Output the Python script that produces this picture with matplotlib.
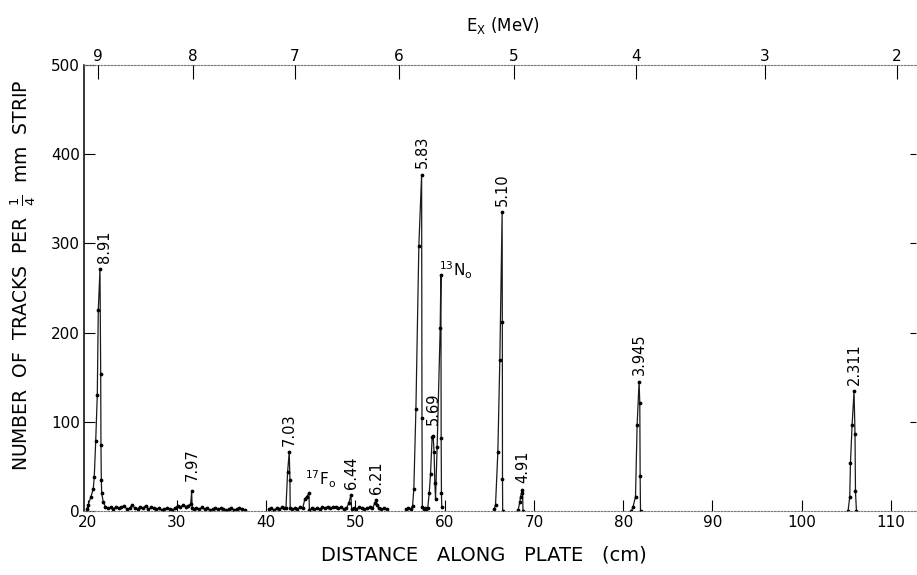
import matplotlib
matplotlib.use("Agg")
import matplotlib.pyplot as plt
import numpy as np

# distance along plate (cm) and number of tracks, one list per drawn run of points
seg1_x = [19.9, 20.08, 20.38, 20.64, 20.75, 20.91, 21.09, 21.2, 21.39, 21.47, 21.5, 21.54, 21.58, 21.76,
          22.0, 22.3, 22.6, 22.9, 23.2, 23.5, 23.8, 24.1, 24.4, 24.7, 25.0, 25.3, 25.6, 25.9, 26.2, 26.5,
          26.8, 27.1, 27.4, 27.7, 28.0, 28.3, 28.6, 28.9, 29.2, 29.5, 29.8, 30.1, 30.4, 30.7, 31.0, 31.3,
          31.55, 31.66, 31.72, 31.9, 32.2, 32.5, 32.8, 33.1, 33.4, 33.7, 34.0, 34.3, 34.6, 34.9, 35.2,
          35.5, 35.8, 36.1, 36.4, 36.7, 37.0, 37.3, 37.6]
seg1_y = [2, 7, 16, 25, 38, 78, 130, 225, 271, 154, 74, 35, 20, 10,
          5, 3, 4, 2, 5, 3, 4, 6, 2, 3, 7, 3, 2, 5, 3, 6,
          2, 4, 3, 2, 3, 1, 2, 3, 2, 1, 3, 6, 4, 7, 5, 6,
          8, 22, 3, 2, 3, 2, 4, 2, 3, 1, 2, 3, 2, 3, 2,
          1, 2, 3, 1, 2, 3, 2, 1]

seg2_x = [40.35, 40.6, 40.9, 41.2, 41.5, 41.8, 42.05, 42.22, 42.41, 42.59, 42.67, 42.7, 42.9, 43.2,
          43.5, 43.8, 44.1, 44.35, 44.54, 44.8, 44.85, 45.1, 45.4, 45.7, 46.0, 46.3, 46.6, 46.9, 47.2,
          47.5, 47.8, 48.1, 48.4, 48.7, 49.0, 49.27, 49.5, 49.58, 49.8, 50.1, 50.4, 50.7, 51.0, 51.3,
          51.6, 51.9, 52.19, 52.3, 52.44, 52.6, 52.9, 53.2, 53.5]
seg2_y = [2, 3, 1, 3, 2, 4, 3, 3, 44, 66, 35, 3, 2, 3,
          2, 4, 3, 14, 16, 20, 1, 3, 2, 3, 2, 4, 3, 5, 3,
          4, 5, 3, 4, 2, 3, 9, 18, 2, 3, 2, 4, 3, 2, 3,
          4, 3, 9, 12, 7, 3, 2, 3, 2]

seg3_x = [55.7, 55.95, 56.2, 56.41, 56.55, 56.78, 57.11, 57.42, 57.46, 57.5, 57.65, 57.8, 57.95, 58.1,
          58.27, 58.42, 58.6, 58.71, 58.82, 58.9, 58.98, 59.16, 59.5, 59.58, 59.61, 59.64, 59.68]
seg3_y = [2, 3, 2, 6, 25, 114, 297, 377, 104, 4, 2, 3, 2, 3,
          20, 42, 83, 84, 66, 31, 14, 72, 205, 264, 82, 20, 4]

seg4_x = [65.55, 65.7, 65.96, 66.18, 66.44, 66.46, 66.48, 66.5]
seg4_y = [2, 7, 66, 169, 335, 212, 36, 0]

seg5_x = [68.23, 68.42, 68.5, 68.61, 68.72, 68.78]
seg5_y = [1, 10, 16, 20, 24, 0]

seg6_x = [80.93, 81.11, 81.38, 81.56, 81.78, 81.86, 81.9, 81.94]
seg6_y = [0, 5, 16, 96, 145, 121, 39, 0]

seg7_x = [105.19, 105.38, 105.46, 105.64, 105.86, 105.97, 106.02, 106.13]
seg7_y = [0, 16, 54, 96, 134, 86, 22, 0]

# excitation energies (MeV) named on the peaks, and where they sit on the plate (cm)
peak_names = ["8.91", "7.97", "7.03", "6.44", "6.21", "5.83", "5.69", "5.10", "4.91", "3.945", "2.311"]
peak_cm = [21.39, 31.66, 42.59, 49.5, 52.3, 57.42, 58.71, 66.44, 68.72, 81.78, 105.86]

# top scale: E_x in MeV against distance along plate
ex_labels = ["9", "8", "7", "6", "5", "4", "3", "2"]
ex_cm = [21.17, 31.8, 43.23, 54.87, 67.75, 81.41, 95.86, 110.64]

segments = [(seg1_x, seg1_y), (seg2_x, seg2_y), (seg3_x, seg3_y), (seg4_x, seg4_y),
            (seg5_x, seg5_y), (seg6_x, seg6_y), (seg7_x, seg7_y)]

plt.rcParams["font.family"] = ["DejaVu Sans"]
plt.rcParams["mathtext.fontset"] = "dejavusans"

fig = plt.figure(figsize=(9.17, 5.75), dpi=100)
ax = fig.add_axes([0.0916, 0.1113, 0.9073, 0.7757])

for sx, sy in segments:
    ax.plot(sx, sy, color="#1a1a1a", lw=0.9, marker="o", ms=1.7, mfc="black", mec="black")

ax.set_xlim(19.6, 112.8)
ax.set_ylim(0, 500)

ax.set_xticks(np.arange(20, 111, 10))
ax.set_yticks(np.arange(0, 501, 100))
ax.tick_params(axis="x", direction="in", length=8, width=0.8, labelsize=11, pad=3)
ax.tick_params(axis="y", direction="in", length=8, width=0.8, labelsize=11, pad=3,
               right=True)
# the right-hand marks are only short dashes, and only between 100 and 400
for t, v in zip(ax.yaxis.get_major_ticks(), ax.get_yticks()):
    t.tick2line.set_markersize(4)
    if v in (0, 500):
        t.tick2line.set_visible(False)

for side in ["top", "bottom"]:
    ax.spines[side].set_linestyle((0, (1.5, 1.5)))
    ax.spines[side].set_color("#777777")
    ax.spines[side].set_linewidth(0.8)
ax.spines["right"].set_visible(False)
ax.spines["left"].set_linewidth(1.1)

# top E_x scale
ax2 = ax.twiny()
ax2.set_xlim(ax.get_xlim())
ax2.set_xticks(ex_cm)
ax2.set_xticklabels(ex_labels)
ax2.tick_params(axis="x", direction="in", length=10, width=0.8, labelsize=11, pad=1)
for s in ax2.spines.values():
    s.set_visible(False)


def peak_top(xc):
    best = 0
    for sx, sy in segments:
        for xv, yv in zip(sx, sy):
            if abs(xv - xc) < 0.3 and yv > best:
                best = yv
    return best


for name, xc in zip(peak_names, peak_cm):
    dx = 0.5 if name == "8.91" else 0.05
    gap = 12 if name in ("7.97", "5.69") else 7
    ax.text(xc + dx, peak_top(xc) + gap, name, rotation=90, ha="center", va="bottom",
            fontsize=10.5)

ax.text(59.4, 258, r"$^{13}$N$_{\rm o}$", fontsize=11, ha="left", va="bottom")
ax.text(44.4, 24, r"$^{17}$F$_{\rm o}$", fontsize=11, ha="left", va="bottom")

fig.text(0.549, 0.955, r"E$_{\rm X}$ (MeV)", fontsize=12, ha="center", va="center")
fig.text(0.025, 0.522, r"NUMBER  OF  TRACKS  PER  $\frac{1}{4}$  mm  STRIP", rotation=90,
         fontsize=13.5, ha="center", va="center")
fig.text(0.528, 0.035, "DISTANCE   ALONG   PLATE   (cm)", fontsize=14, ha="center",
         va="center")

fig.savefig("out.png", dpi=100)
